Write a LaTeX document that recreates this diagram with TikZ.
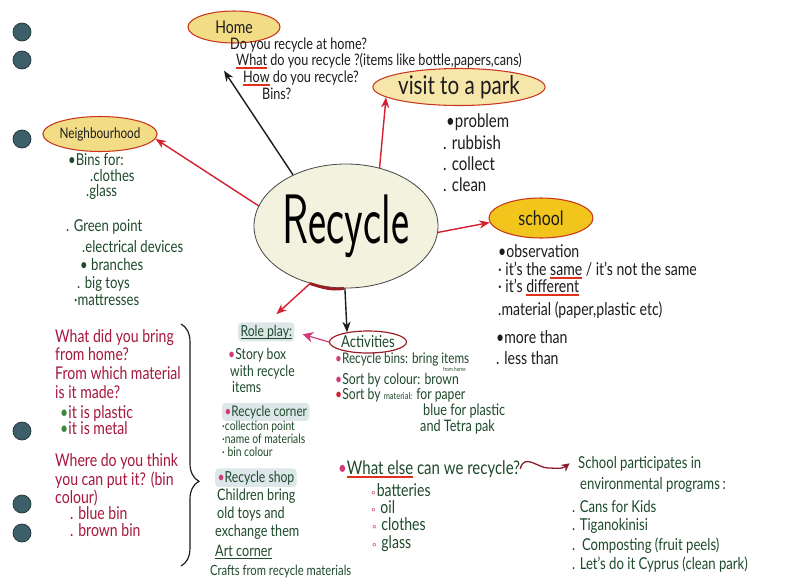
\documentclass[tikz,border=0pt]{standalone}
\usepackage{fontspec}
\setmainfont{Lato}[FakeStretch=0.8]
\newfontfamily\symfont{DejaVu Sans}
\usepackage{xcolor}
\usepackage{graphicx}
\usepackage{tikz}
\usetikzlibrary{
  positioning, arrows.meta, shapes.geometric,
  calc, decorations.pathreplacing
}

\definecolor{inkblack}{HTML}{1C1C1C}
\definecolor{inkgreen}{HTML}{1E4A2B}
\definecolor{inkcrim}{HTML}{A5173F}
\definecolor{arrowred}{HTML}{D42030}
\definecolor{ulred}{HTML}{E0301E}
\definecolor{ringred}{HTML}{C8361C}
\definecolor{ringdark}{HTML}{9B1C22}
\definecolor{bubyel}{HTML}{F2DC86}
\definecolor{schoolyel}{HTML}{F1C51C}
\definecolor{recfill}{HTML}{F2F2DF}
\definecolor{bulpink}{HTML}{D23A78}
\definecolor{dotgreen}{HTML}{3C8A3C}
\definecolor{hilite}{HTML}{DDE7EA}
\definecolor{holeblue}{HTML}{3D5F6A}
\definecolor{holeedge}{HTML}{1F3339}
\definecolor{wavered}{HTML}{8E1A2E}

% hand underlines
\newcommand{\redline}[1]{\leavevmode\sbox0{#1}\rlap{\textcolor{ulred}{\rule[-3pt]{\wd0}{1.1pt}}}\usebox0}
\newcommand{\penline}[1]{\leavevmode\sbox0{#1}\rlap{\rule[-2.5pt]{\wd0}{0.7pt}}\usebox0}
\newcommand{\pdot}{\textcolor{bulpink}{•}}
\newcommand{\gdot}{\textcolor{dotgreen}{•}}
\newcommand{\ringdot}{\textcolor{bulpink}{\symfont\small ∘}}
\newcommand{\fs}[1]{\fontsize{#1}{#1}\selectfont}

\begin{document}
\begin{tikzpicture}[
  x=0.03cm, y=-0.03cm,
  bubble/.style={ellipse, draw=ringred, line width=0.9pt, fill=bubyel,
    inner sep=0pt, text=inkblack},
  hand/.style={anchor=base west, inner sep=0pt},
  blacktxt/.style={hand, text=inkblack, font=\fs{14}},
  greentxt/.style={hand, text=inkgreen, font=\fs{13}},
  crimtxt/.style={hand, text=inkcrim, font=\fs{15}},
  marker/.style={hand, fill=hilite, rounded corners=3pt, inner sep=2pt,
    text=inkgreen},
  flow/.style={-{Stealth[length=9pt, width=7pt]}, line width=1.2pt, arrowred},
  inkflow/.style={-{Stealth[length=9pt, width=7pt]}, line width=1.2pt, inkblack},
  pinkflow/.style={-{Stealth[length=9pt, width=9pt]}, line width=1pt, bulpink},
  wave/.style={-{Stealth[length=7pt, width=7pt]}, line width=1.1pt, wavered},
  hole/.style={circle, draw=holeedge, fill=holeblue, line width=0.6pt,
    minimum size=0.54cm, inner sep=0pt},
]

\useasboundingbox (0,0) rectangle (800,579);
\fill[white] (0,0) rectangle (800,579);

% ── Binder holes ─────────────────────────────────────────
\node[hole] (h1) at (22,32) {};
\node[hole] (h2) at (22,60) {};
\node[hole] (h3) at (22,139) {};
\node[hole] (h4) at (22,431) {};
\node[hole] (h5) at (22,504) {};
\node[hole] (h6) at (22,533) {};

% ── Centre ───────────────────────────────────────────────
\node[ellipse, draw=inkblack!80, line width=0.7pt, fill=recfill,
  minimum width=5.52cm, minimum height=3.72cm, inner sep=0pt]
  (rec) at (346,226) {\scalebox{0.8}[1.3]{\sffamily\fs{46}Recycle}};

% ── Home ─────────────────────────────────────────────────
\node[bubble, minimum width=2.76cm, minimum height=0.96cm, font=\fs{15}]
  (home) at (234,27) {Home};
\node[blacktxt, font=\fs{13.5}] (hq1) at (230,49) {Do you recycle at home?};
\node[blacktxt, font=\fs{13.5}] (hq2) at (236,65)
  {\redline{What} do you recycle ?(items like bottle,papers,cans)};
\node[blacktxt, font=\fs{13.5}] (hq3) at (243,82) {\redline{How} do you recycle?};
\node[blacktxt, font=\fs{13.5}] (hq4) at (262,99) {Bins?};

\draw[inkflow] (rec.136) -- ($(hq2.south west)+(-12,2)$);

% ── Visit to a park ──────────────────────────────────────
\node[bubble, fill=bubyel!70, minimum width=5.16cm, minimum height=1.11cm,
  font=\fs{22}] (park) at (459,87) {visit to a park};
\node[blacktxt, font=\fs{16}] (pk1) at (446,127) {•problem};
\node[blacktxt, font=\fs{16}] (pk2) at (443,149) {. rubbish};
\node[blacktxt, font=\fs{16}] (pk3) at (443,170) {. collect};
\node[blacktxt, font=\fs{16}] (pk4) at (443,191) {. clean};

\draw[flow] (rec.60) -- (park.188);

% ── Neighbourhood ────────────────────────────────────────
\node[bubble, minimum width=3.0cm, minimum height=1.05cm, font=\fs{12.5}]
  (nbh) at (100,134) {Neighbourhood};
\node[greentxt, font=\fs{14}] (nb1) at (68,165) {•Bins for:};
\node[greentxt, font=\fs{14}] (nb2) at (90,181) {.clothes};
\node[greentxt, font=\fs{14}] (nb3) at (86,196) {.glass};
\node[greentxt, font=\fs{14}] (nb4) at (66,231) {. Green point};
\node[greentxt, font=\fs{14}] (nb5) at (82,252) {.electrical devices};
\node[greentxt, font=\fs{14}] (nb6) at (80,270) {• branches};
\node[greentxt, font=\fs{14}] (nb7) at (77,288) {. big toys};
\node[greentxt, font=\fs{14}] (nb8) at (74,305) {·mattresses};

\draw[flow] (rec.167) -- (nbh.355);

% ── School ───────────────────────────────────────────────
\node[bubble, fill=schoolyel, minimum width=3.12cm, minimum height=1.2cm,
  font=\fs{17}] (school) at (541,218) {school};
\node[blacktxt, font=\fs{15}] (sc1) at (498,257) {•observation};
\node[blacktxt, font=\fs{15}] (sc2) at (498,275)
  {· it's the \redline{same} / it's not the same};
\node[blacktxt, font=\fs{15}] (sc3) at (498,292) {· it's \redline{different}};
\node[blacktxt, font=\fs{15}] (sc4) at (498,315) {.material (paper,plastic etc)};
\node[blacktxt, font=\fs{15}] (sc5) at (496,343) {•more than};
\node[blacktxt, font=\fs{15}] (sc6) at (496,364) {. less than};

\draw[flow] (rec.356) -- (school.185);

% ── Questions for the children ───────────────────────────
\node[crimtxt] (cq1) at (55,342) {What did you bring};
\node[crimtxt] (cq2) at (55,360) {from home?};
\node[crimtxt] (cq3) at (55,379) {From which material};
\node[crimtxt] (cq4) at (55,398) {is it made?};
\node[crimtxt] (cq5) at (60,418) {\gdot it is plastic};
\node[crimtxt] (cq6) at (60,434) {\gdot it is metal};
\node[crimtxt] (cq7) at (55,466) {Where do you think};
\node[crimtxt] (cq8) at (55,485) {you can put it? (bin};
\node[crimtxt] (cq9) at (55,503) {colour)};
\node[crimtxt] (cq10) at (70,519) {. blue bin};
\node[crimtxt] (cq11) at (70,536) {. brown bin};

\draw[inkblack, line width=1pt, decorate,
  decoration={brace, amplitude=0.54cm, aspect=0.65}] (181,324) -- (181,566);

% ── Role play / corners ──────────────────────────────────
\node[marker, font=\fs{13}] (rp) at (238,336) {\penline{Role play:}};
\node[greentxt] (rp1) at (228,359) {\pdot Story box};
\node[greentxt] (rp2) at (230,376) {with recycle};
\node[greentxt] (rp3) at (232,392) {items};
\node[marker, font=\fs{12.5}] (rc) at (222,416) {\pdot Recycle corner};
\node[greentxt, font=\fs{11}] (rc1) at (222,430) {·collection point};
\node[greentxt, font=\fs{11}] (rc2) at (222,443) {·name of materials};
\node[greentxt, font=\fs{11}] (rc3) at (222,456) {· bin colour};
\node[marker, font=\fs{13}] (rs) at (215,482) {\pdot Recycle shop};
\node[greentxt, font=\fs{13.5}] (rs1) at (217,500) {Children bring};
\node[greentxt, font=\fs{13.5}] (rs2) at (217,518) {old toys and};
\node[greentxt, font=\fs{13.5}] (rs3) at (215,536) {exchange them};
\node[greentxt, font=\fs{13.5}] (ac) at (215,556) {\penline{Art corner}};
\node[greentxt, font=\fs{12}] (ac1) at (210,575) {Crafts from recycle materials};

% ── Activities ───────────────────────────────────────────
\node[ellipse, draw=ringdark, line width=1pt, minimum width=2.31cm,
  minimum height=0.66cm, inner sep=0pt, text=inkgreen, font=\fs{14}]
  (act) at (368,342) {Activities};
\node[greentxt, font=\fs{12.5}] (at1) at (335,363) {\pdot Recycle bins: bring items};
\node[greentxt, font=\fs{5}] (at1b) at (443,371.5) {from home};
\node[greentxt, font=\fs{13}] (at2) at (335,384) {\pdot Sort by colour: brown};
\node[greentxt, font=\fs{13}] (at3) at (335,399)
  {\textcolor{arrowred}{•}Sort by {\fs{8}material:} for paper};
\node[greentxt, font=\fs{13.5}] (at4) at (423,415) {blue for plastic};
\node[greentxt, font=\fs{13.5}] (at5) at (420,431) {and Tetra pak};

% bar on the rim, then the two branches
\draw[line width=2.5pt, ringdark] (rec.238) .. controls +(12,4) and +(-12,2) .. (rec.268);
\draw[flow] (rec.238) -- ($(rp.north)+(10,-8)$);
\draw[inkflow] (rec.269) -- (act.155);
\draw[pinkflow, shorten >=0.25cm] (act.west) -- (rp.east);

% ── What else ────────────────────────────────────────────
\node[greentxt, font=\fs{16}] (we) at (338,474)
  {\pdot\redline{What else} can we recycle?};
\node[greentxt, font=\fs{15}] (we1) at (370,496) {\ringdot batteries};
\node[greentxt, font=\fs{15}] (we2) at (370,513) {\ringdot\ oil};
\node[greentxt, font=\fs{15}] (we3) at (371,530) {\ringdot\ clothes};
\node[greentxt, font=\fs{15}] (we4) at (371,548) {\ringdot\ glass};

% ── Programs ─────────────────────────────────────────────
\node[greentxt, font=\fs{14}] (sp) at (578,468) {School participates in};
\node[greentxt, font=\fs{14}] (sp2) at (580,489) {environmental programs\,:};
\node[greentxt, font=\fs{14}] (sp3) at (572,512) {. Cans for Kids};
\node[greentxt, font=\fs{14}] (sp4) at (572,530) {. Tiganokinisi};
\node[greentxt, font=\fs{14}] (sp5) at (572,550) {.\ \ Composting (fruit peels)};
\node[greentxt, font=\fs{14}] (sp6) at (572,569) {. Let's do it Cyprus (clean park)};

\coordinate (wv) at (548,468);
\draw[wave] (we.east) .. controls +(4,-16) and +(-10,0) .. (wv)
  .. controls +(8,0) and +(-8,6) .. ([xshift=-0.25cm]sp.west);

\end{tikzpicture}
\end{document}
